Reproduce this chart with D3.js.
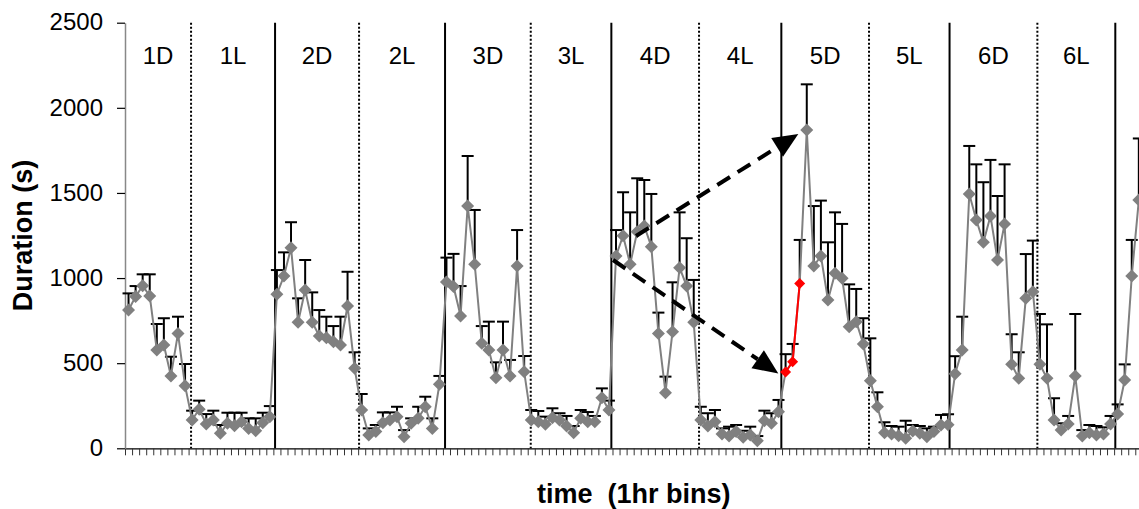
<!DOCTYPE html>
<html><head><meta charset="utf-8">
<script src="https://cdn.jsdelivr.net/npm/d3@7"></script>
<style>body{margin:0;background:#fff}svg{display:block}</style>
</head><body>
<svg id="c" width="1139" height="509"></svg>
<script>
// ---- data ----
const periods = ["1D","1L","2D","2L","3D","3L","4D","4L","5D","5L","6D","6L"];
// hour-bin positions where each period after 1D starts (hand-drawn separators)
const periodStarts = [8.85,20.74,32.63,44.80,56.93,68.34,80.75,92.40,104.81,116.21,128.64,139.67];
const durations = [
 812,891,955,895,577,607,425,675,368,
 166,229,143,166,88,147,133,156,117,103,150,186,
 905,1012,1178,740,930,740,660,650,626,607,836,470,
 225,78,98,150,166,186,68,147,176,244,117,376,
 977,951,777,1423,1081,617,577,415,577,425,1071,450,
 166,156,141,180,166,131,92,176,156,156,297,225,
 1130,1249,1081,1272,1306,1184,675,327,685,1061,953,740,
 166,131,156,84,72,98,65,78,45,162,147,215,
 448,509,968,1870,1071,1130,871,1028,999,714,744,613,
 397,244,92,84,74,59,102,88,68,98,137,139,
 438,577,1494,1341,1210,1365,1106,1318,493,411,881,920,
 493,411,166,107,143,425,72,92,78,84,143,201,
 401,1012,1458
];
const upperBound = [
 910,953,1022,1022,730,764,538,773,495,
 221,280,201,221,137,209,209,209,176,176,209,248,
 1047,1151,1328,881,1106,916,812,773,718,773,1037,564,
 319,117,137,211,211,244,107,176,244,303,176,425,
 1120,1142,953,1717,1400,718,744,505,744,519,1282,542,
 225,219,186,235,206,190,131,225,213,190,352,280,
 1282,1504,1386,1586,1576,1494,797,421,975,1386,1234,989,
 244,206,225,117,127,137,103,127,72,221,206,284,
 553,613,1224,2138,1423,1455,1210,1386,1318,963,936,764,
 646,329,153,131,127,162,137,131,117,127,196,200,
 541,773,1776,1668,1563,1694,1482,1668,670,564,1141,1220,
 789,728,294,147,190,789,107,137,131,123,190,258,
 493,1224,1820
];
const highlighted = [93,94,95];
const yTicks = [0,500,1000,1500,2000,2500];
const nBins = 144;
// annotation arrows: [fromBin, fromDuration, toBin, toDuration]
const arrowUp = [71.83,1247,94.8,1846];
const arrowDown = [68.58,1106,91.97,440];

// ---- chart ----
const svg = d3.select("#c");
const font = "'Liberation Sans', Arial, sans-serif";
const x = d3.scaleLinear().domain([-0.5, nBins-0.5]).range([125, 125 + nBins*7.065]);
const y = d3.scaleLinear().domain([0,2500]).range([448.3, 22.7]);

// separators
const starts = periodStarts;
svg.append("g").selectAll("line").data(starts).join("line")
  .attr("x1", d=>x(d)).attr("x2", d=>x(d))
  .attr("y1", y(2500)).attr("y2", y(0))
  .attr("stroke","#000").attr("stroke-width",2)
  .attr("stroke-dasharray",(d,i)=> i%2===0 ? "2,2" : null);

// period labels
const edges = [-0.5, ...starts];
svg.append("g").selectAll("text").data(periods).join("text")
  .attr("x",(d,i)=> (x(edges[i]) + x(edges[i+1]))/2)
  .attr("y", 64)
  .attr("text-anchor","middle")
  .attr("font-family",font).attr("font-size",24)
  .text(d=>d);

// x axis
const xAxis = svg.append("g").attr("transform",`translate(0,${y(0)})`)
  .call(d3.axisBottom(x).tickValues(d3.range(nBins+1).map(k=>k-0.5)).tickFormat("").tickSize(7).tickSizeOuter(0));
xAxis.select(".domain").attr("stroke","#000").attr("stroke-width",1.2);
xAxis.selectAll(".tick line").attr("stroke","#333").attr("stroke-width",1);

// y axis
const yAxis = svg.append("g").attr("transform",`translate(${x(-0.5)},0)`)
  .call(d3.axisLeft(y).tickValues(yTicks).tickFormat(d3.format("d")).tickSize(8).tickPadding(14).tickSizeOuter(0));
yAxis.select(".domain").attr("stroke","#888").attr("stroke-width",1.5);
yAxis.selectAll(".tick line").attr("stroke","#000").attr("stroke-width",1.2);
yAxis.selectAll(".tick text").attr("font-family",font).attr("font-size",24).attr("fill","#000").attr("dy","0.3em");

// axis titles
svg.append("text").attr("x",(x(-0.5)+x(nBins-0.5))/2).attr("y",503)
  .attr("text-anchor","middle").attr("font-family",font).attr("font-weight","bold").attr("font-size",27)
  .style("white-space","pre")
  .text("time  (1hr bins)");
svg.append("text").attr("transform",`translate(32,${(y(0)+y(2500))/2}) rotate(-90)`)
  .attr("text-anchor","middle").attr("font-family",font).attr("font-weight","bold").attr("font-size",27)
  .text("Duration (s)");

const pts = durations.map((v,i)=>({i, v, u: upperBound[i]}));

// error bars
const eb = svg.append("g").attr("stroke","#000").attr("stroke-width",2);
eb.selectAll("line.v").data(pts).join("line").attr("class","v")
  .attr("x1",d=>x(d.i)).attr("x2",d=>x(d.i)).attr("y1",d=>y(d.v)).attr("y2",d=>y(d.u));
eb.selectAll("line.c").data(pts).join("line").attr("class","c")
  .attr("x1",d=>x(d.i)-6).attr("x2",d=>x(d.i)+6).attr("y1",d=>y(d.u)).attr("y2",d=>y(d.u));

// series line
const line = d3.line().x(d=>x(d.i)).y(d=>y(d.v));
svg.append("path").datum(pts).attr("d",line).attr("fill","none").attr("stroke","#808080").attr("stroke-width",2);
const hp = pts.filter(d=>highlighted.includes(d.i));
svg.append("path").datum(hp).attr("d",line).attr("fill","none").attr("stroke","#ff0000").attr("stroke-width",2);

// markers
const diamond = r => `M0,${-r}L${r},0L0,${r}L${-r},0Z`;
svg.append("g").selectAll("path").data(pts.filter(d=>!highlighted.includes(d.i))).join("path")
  .attr("transform",d=>`translate(${x(d.i)},${y(d.v)})`).attr("d",diamond(6.5)).attr("fill","#808080");
svg.append("g").selectAll("path").data(hp).join("path")
  .attr("transform",d=>`translate(${x(d.i)},${y(d.v)})`).attr("d",diamond(5.5)).attr("fill","#ff0000");

// arrows
function arrow(a){
  const x1=x(a[0]), y1=y(a[1]), x2=x(a[2]), y2=y(a[3]);
  const dx=x2-x1, dy=y2-y1, L=Math.hypot(dx,dy), ux=dx/L, uy=dy/L;
  const hl=25, hw=11;
  const bx=x2-ux*hl, by=y2-uy*hl;
  svg.append("line").attr("x1",x1).attr("y1",y1).attr("x2",bx).attr("y2",by)
    .attr("stroke","#000").attr("stroke-width",4).attr("stroke-dasharray","15,9");
  svg.append("path").attr("d",`M${x2},${y2}L${bx-uy*hw},${by+ux*hw}L${bx+uy*hw},${by-ux*hw}Z`).attr("fill","#000");
}
arrow(arrowUp); arrow(arrowDown);
</script>
</body></html>
